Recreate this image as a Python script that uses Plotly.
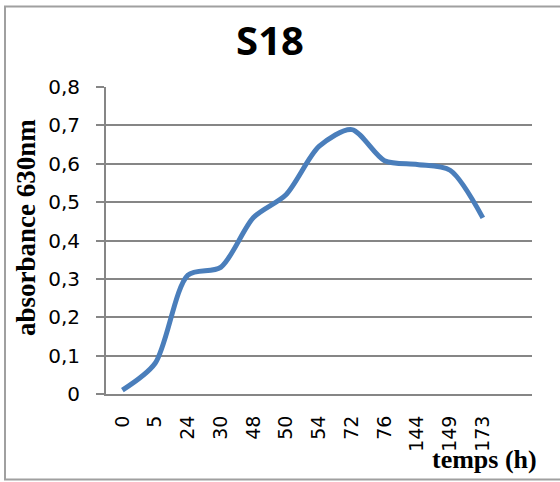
import plotly.graph_objects as go

categories = ["0", "5", "24", "30", "48", "50", "54", "72", "76", "144", "149", "173"]
absorbance = [0.01, 0.08, 0.31, 0.33, 0.46, 0.52, 0.645, 0.689, 0.608, 0.598, 0.583, 0.459]
y_ticks = [0, 0.1, 0.2, 0.3, 0.4, 0.5, 0.6, 0.7, 0.8]
y_tick_text = ["0", "0,1", "0,2", "0,3", "0,4", "0,5", "0,6", "0,7", "0,8"]

W, H = 560, 482
L, R, T, B = 106, 28, 87, 88
pw, ph = W - L - R, H - T - B

def px(x):
    return (x - L) / pw

def py(y):
    return (H - B - y) / ph

fig = go.Figure()
fig.add_trace(go.Scatter(
    x=categories, y=absorbance, mode="lines",
    line=dict(color="#4a7ebb", width=5, shape="spline", smoothing=0.8),
    showlegend=False, hoverinfo="skip",
))

fig.update_layout(
    width=W, height=H,
    margin=dict(l=L, r=R, t=T, b=B),
    paper_bgcolor="white", plot_bgcolor="white",
    title=dict(text="<b>S18</b>", x=270 / W, xref="container", xanchor="center",
               y=1 - 41 / H, yref="container", yanchor="middle",
               font=dict(family="Open Sans", size=40, color="black")),
    xaxis=dict(
        type="category", range=[-0.5, 12.5],
        tickangle=-90, showgrid=False, showline=True, linecolor="#868686", linewidth=2,
        ticks="", tickfont=dict(family="DejaVu Sans", size=19, color="black"),
        ticklabelstandoff=12, zeroline=False,
    ),
    yaxis=dict(
        range=[0, 0.8], tickvals=y_ticks, ticktext=y_tick_text,
        showgrid=True, gridcolor="#868686", gridwidth=1.5,
        showline=True, linecolor="#868686", linewidth=2,
        ticks="outside", ticklen=8, tickcolor="#868686", tickwidth=1.5,
        tickfont=dict(family="DejaVu Sans", size=20, color="black"),
        ticklabelstandoff=12, zeroline=False,
    ),
    annotations=[
        dict(text="<b>absorbance 630nm</b>", textangle=-90, xref="paper", yref="paper",
             x=px(26), y=py(228), xanchor="center", yanchor="middle", showarrow=False,
             font=dict(family="Liberation Serif", size=27, color="black")),
        dict(text="<b>temps (h)</b>", xref="paper", yref="paper",
             x=px(539), y=py(459), xanchor="right", yanchor="middle", showarrow=False,
             font=dict(family="Liberation Serif", size=26, color="black")),
    ],
    shapes=[
        dict(type="rect", xref="paper", yref="paper",
             x0=px(5), x1=px(575), y0=py(479.5), y1=py(6.5),
             line=dict(color="#a0a0a0", width=2), fillcolor="rgba(0,0,0,0)", layer="below"),
    ],
)

fig.write_html("out.html")
